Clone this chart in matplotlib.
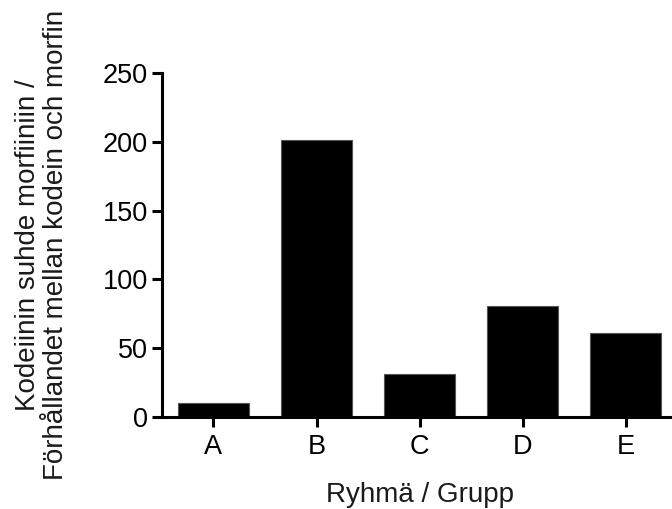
import matplotlib.pyplot as plt

# Daten
ryhmat = ['A', 'B', 'C', 'D', 'E']
suhde = [10, 201, 31, 81, 61]

plt.rcParams['font.family'] = ['Liberation Sans', 'DejaVu Sans']

fig = plt.figure(figsize=(6.72, 5.09), dpi=100)
ax = fig.add_axes([0.241, 0.1807, 0.759, 0.6759])

ax.bar(range(len(ryhmat)), suhde, width=0.69, color='black', edgecolor='#555555', linewidth=0.8)

ax.set_xlim(-0.5, 4.45)
ax.set_ylim(0, 250)
ax.set_yticks([0, 50, 100, 150, 200, 250])
ax.set_xticks(range(len(ryhmat)))
ax.set_xticklabels(ryhmat)

for side in ['top', 'right']:
    ax.spines[side].set_visible(False)
for side in ['left', 'bottom']:
    ax.spines[side].set_linewidth(2.2)

ax.tick_params(axis='both', length=7, width=2.2, labelsize=19.5, colors='black', pad=3)
ax.tick_params(axis='x', pad=5)

ax.set_xlabel('Ryhmä / Grupp', fontsize=20, color='#1a1a1a')
ax.set_ylabel('Kodeiinin suhde morfiiniin /\nFörhållandet mellan kodein och morfin',
              fontsize=20, linespacing=1.1, color='#1a1a1a')
ax.xaxis.set_label_coords(0.506, -0.19)
ax.yaxis.set_label_coords(-0.182, 0.5)

plt.savefig('out.png', dpi=100)
